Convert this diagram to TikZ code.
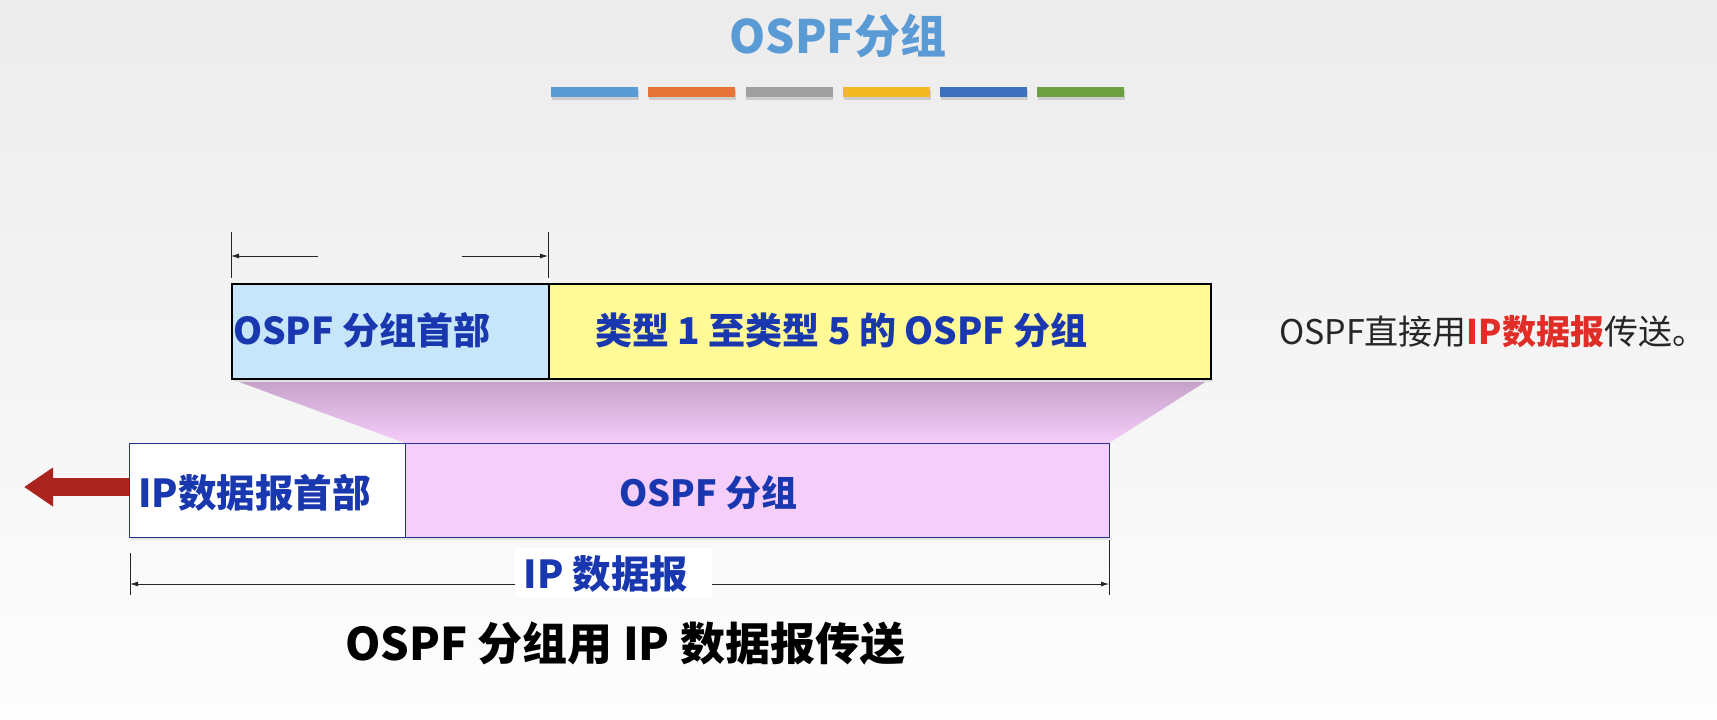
\documentclass[tikz,border=0pt]{standalone}
\usepackage{fontspec}
\setmainfont{Noto Sans CJK SC}
\usetikzlibrary{arrows.meta}
\definecolor{bgtop}{RGB}{236,236,236}
\definecolor{bgbot}{RGB}{253,253,253}
\definecolor{titleblue}{RGB}{91,155,213}
\definecolor{barA}{RGB}{91,155,213}
\definecolor{barB}{RGB}{228,117,55}
\definecolor{barC}{RGB}{160,160,160}
\definecolor{barD}{RGB}{244,184,35}
\definecolor{barE}{RGB}{62,112,190}
\definecolor{barF}{RGB}{108,160,64}
\definecolor{hdrblue}{RGB}{200,230,250}
\definecolor{bodyyellow}{RGB}{255,250,150}
\definecolor{pinkfill}{RGB}{245,206,250}
\definecolor{pinktop}{RGB}{196,160,200}
\definecolor{textblue}{RGB}{25,55,175}
\definecolor{navy}{RGB}{40,50,140}
\definecolor{arrowred}{RGB}{170,35,30}
\definecolor{notered}{RGB}{225,45,40}
\tikzset{
  bluetext/.style={text=textblue, font=\fontsize{#1}{#1}\selectfont\bfseries, inner sep=0pt, anchor=west},
  bluetext/.default=37,
  upbox/.style={draw=black, line width=1.6pt, minimum height=95pt, inner sep=0pt, anchor=north west},
  lowbox/.style={draw=navy, line width=1.3pt, minimum height=94pt, inner sep=0pt, anchor=north west},
  colbar/.style={minimum width=87pt, minimum height=10pt, inner sep=0pt, anchor=north west},
  dimline/.style={line width=0.8pt, black!85},
  dimarrow/.style={line width=0.8pt, black!85, -{Latex[length=8pt,width=5pt]}},
}
\begin{document}
\begin{tikzpicture}[x=1pt,y=-1pt]
\useasboundingbox (0,0) rectangle (1717,720);
\shade[top color=bgtop, bottom color=bgbot] (0,0) rectangle (1717,720);
% title
\node[text=titleblue, font=\fontsize{46}{46}\selectfont\bfseries, inner sep=0pt] (title) at (838,36) {OSPF分组};
% colour bars
\foreach \c [count=\i from 0] in {barA,barB,barC,barD,barE,barF}{
  \fill[black!20] (552+97.2*\i,90) rectangle ++(87,10);
  \node[colbar, fill=\c] (bar\i) at (551+97.2*\i,87) {};
}
% pink trapezoid
\shade[top color=pinktop, bottom color=pinkfill] (231,379) -- (1210,379) -- (1109,443) -- (405,443) -- cycle;
% shadows
\fill[black!12] (234,378) rectangle (1213,382);
\fill[black!10] (131,537) rectangle (1112,540);
% upper boxes
\node[upbox, fill=hdrblue, minimum width=317pt] (hdr) at (231,283) {};
\node[upbox, fill=bodyyellow, minimum width=662pt] (body) at (548,283) {};
\node[bluetext] (hdrtxt) at (233,330) {OSPF 分组首部};
\node[bluetext] (bodytxt) at (595,330) {类型 1 至类型 5 的 OSPF 分组};
% lower boxes
\node[lowbox, fill=white, minimum width=276pt] (iphdr) at (129,443) {};
\node[lowbox, fill=pinkfill, minimum width=704pt] (ipdata) at (405,443) {};
\node[bluetext=38.5] (iphdrtxt) at (138,493) {IP数据报首部};
\node[bluetext=36] (ipdatatxt) at (619,493) {OSPF 分组};
% red arrow
\coordinate (redtip) at (24,487);
\draw[arrowred, line width=18pt, -{Triangle[length=29pt,width=37pt]}] (iphdr.west |- redtip) -- (redtip);
% top dimension
\coordinate (t1a) at (231,232); \coordinate (t1b) at (231,278);
\coordinate (t2a) at (548,232); \coordinate (t2b) at (548,278);
\draw[dimline] (t1a) -- (t1b);
\draw[dimline] (t2a) -- (t2b);
\coordinate (la) at (318,256); \coordinate (lb) at (231,256);
\coordinate (ra) at (462,256); \coordinate (rb) at (548,256);
\draw[dimarrow] (la) -- (lb);
\draw[dimarrow] (ra) -- (rb);
% bottom dimension
\coordinate (b1a) at (130,553); \coordinate (b1b) at (130,595);
\coordinate (b2a) at (1109,540); \coordinate (b2b) at (1109,595);
\draw[dimline] (b1a) -- (b1b);
\draw[dimline] (b2a) -- (b2b);
\coordinate (bl) at (130,584); \coordinate (br) at (1109,584);
\draw[dimline, {Latex[length=8pt,width=5pt]}-{Latex[length=8pt,width=5pt]}] (bl) -- (br);
\fill[white] (515,548) rectangle (712,597);
\node[bluetext=38.5, anchor=center] (iplabel) at (606,574) {IP 数据报};
% bottom caption
\node[font=\fontsize{45}{45}\selectfont\bfseries, text=black, inner sep=0pt, anchor=west] (caption) at (345,644) {OSPF 分组用 IP 数据报传送};
% side note
\node[font=\fontsize{34}{34}\selectfont, text=black!85, inner sep=0pt, anchor=west] (note) at (1279,332) {OSPF直接用\textcolor{notered}{\bfseries IP数据报}传送。};
\end{tikzpicture}
\end{document}
